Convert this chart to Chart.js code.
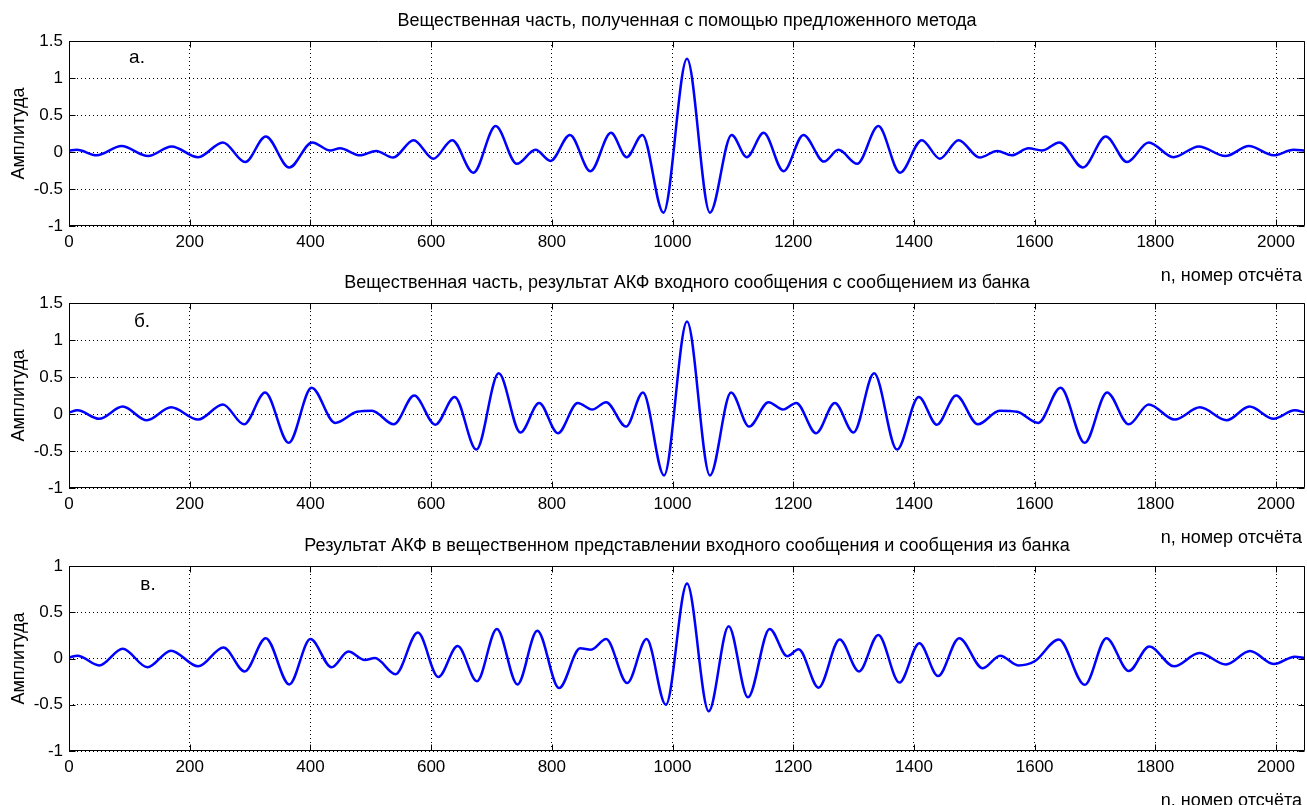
<!DOCTYPE html>
<html lang="ru">
<head>
  <meta charset="UTF-8">
  <title>АКФ</title>
  <script src="https://cdn.jsdelivr.net/npm/chart.js"></script>
  <style>
    body { margin: 0; background: #fff; width: 1307px; height: 805px; overflow: hidden; position: relative; }
    canvas { position: absolute; left: 0; }
  </style>
</head>
<body>
  <canvas id="chA" width="1307" height="290" style="top:0px"></canvas>
  <canvas id="chB" width="1307" height="290" style="top:262px"></canvas>
  <canvas id="chC" width="1307" height="290" style="top:525px"></canvas>

  <script>
    // отсчёты и амплитуды (экстремумы)
    const nA = [0, 13, 46, 87, 131, 170, 214, 255, 292, 326, 365, 403, 433, 449, 482, 509, 537, 571, 604, 635, 670, 707, 742, 773, 798, 830, 864, 898, 924, 950, 985, 1024, 1062, 1098, 1123, 1151, 1184, 1217, 1251, 1275, 1306, 1341, 1377, 1413, 1443, 1474, 1509, 1538, 1562, 1590, 1612, 1641, 1680, 1718, 1753, 1789, 1830, 1872, 1916, 1955, 1996, 2029, 2048];
    const ampA = [0.02, 0.03, -0.045, 0.08, -0.055, 0.075, -0.07, 0.13, -0.135, 0.21, -0.21, 0.13, 0.02, 0.05, -0.045, 0.015, -0.075, 0.16, -0.09, 0.16, -0.28, 0.35, -0.16, 0.03, -0.12, 0.23, -0.26, 0.26, -0.07, 0.23, -0.82, 1.26, -0.82, 0.23, -0.07, 0.26, -0.26, 0.23, -0.13, 0.03, -0.16, 0.35, -0.28, 0.16, -0.09, 0.16, -0.075, 0.015, -0.045, 0.05, 0.02, 0.13, -0.21, 0.21, -0.135, 0.13, -0.07, 0.075, -0.055, 0.08, -0.045, 0.03, 0.02];

    const nB = [0, 14, 50, 89, 129, 169, 214, 255, 290, 325, 364, 402, 441, 477, 502, 538, 572, 607, 639, 675, 712, 748, 779, 810, 843, 867, 890, 923, 951, 986, 1024, 1062, 1097, 1127, 1159, 1183, 1205, 1238, 1269, 1300, 1334, 1372, 1408, 1438, 1470, 1506, 1542, 1571, 1606, 1643, 1683, 1720, 1756, 1789, 1832, 1874, 1918, 1956, 1996, 2031, 2048];
    const ampB = [0.02, 0.05, -0.065, 0.1, -0.085, 0.09, -0.075, 0.13, -0.14, 0.29, -0.39, 0.355, -0.12, 0.03, 0.045, -0.14, 0.25, -0.145, 0.23, -0.48, 0.55, -0.25, 0.15, -0.26, 0.15, 0.06, 0.16, -0.17, 0.29, -0.83, 1.25, -0.83, 0.29, -0.17, 0.16, 0.06, 0.15, -0.26, 0.15, -0.25, 0.55, -0.48, 0.23, -0.145, 0.25, -0.14, 0.045, 0.03, -0.12, 0.355, -0.39, 0.29, -0.14, 0.13, -0.075, 0.09, -0.085, 0.1, -0.065, 0.05, 0.02];

    const nC = [0, 14, 50, 89, 130, 169, 214, 256, 291, 326, 365, 400, 435, 463, 490, 507, 541, 578, 612, 644, 676, 709, 743, 776, 812, 847, 865, 890, 925, 957, 989, 1024, 1060, 1093, 1125, 1161, 1190, 1209, 1242, 1277, 1309, 1341, 1376, 1409, 1440, 1475, 1514, 1543, 1573, 1600, 1640, 1683, 1719, 1756, 1790, 1831, 1873, 1917, 1957, 1996, 2031, 2048];
    const ampC = [0.01, 0.03, -0.075, 0.105, -0.095, 0.085, -0.085, 0.12, -0.14, 0.22, -0.28, 0.21, -0.095, 0.075, -0.015, 0.005, -0.17, 0.28, -0.2, 0.135, -0.245, 0.32, -0.28, 0.3, -0.32, 0.11, 0.095, 0.21, -0.265, 0.21, -0.5, 0.81, -0.57, 0.35, -0.42, 0.32, 0.025, 0.1, -0.315, 0.205, -0.14, 0.255, -0.26, 0.165, -0.19, 0.22, -0.105, 0.03, -0.075, -0.03, 0.205, -0.285, 0.22, -0.135, 0.13, -0.085, 0.06, -0.065, 0.08, -0.06, 0.02, 0.005];

    const xTicks = [0, 200, 400, 600, 800, 1000, 1200, 1400, 1600, 1800, 2000];
    const yTicksAB = [-1, -0.5, 0, 0.5, 1, 1.5];
    const yTicksC = [-1, -0.5, 0, 0.5, 1];

    const titles = [
      'Вещественная часть, полученная с помощью предложенного метода',
      'Вещественная часть, результат АКФ входного сообщения с сообщением из банка',
      'Результат АКФ в вещественном представлении входного сообщения и сообщения из банка'
    ];
    const letters = ['а.', 'б.', 'в.'];
    const yLabel = 'Амплитуда';
    const xLabel = 'n, номер отсчёта';

    const FONT = '"Liberation Sans", Arial, sans-serif';

    // рамка, внутренние засечки и подписи в стиле MATLAB
    const panelDecor = {
      id: 'panelDecor',
      afterDraw(chart, args, o) {
        const { ctx, chartArea: a, scales } = chart;
        const L = Math.round(a.left) + 0.5, R = Math.round(a.right) - 0.5;
        const T = Math.round(a.top) + 0.5, B = Math.round(a.bottom) - 0.5;
        ctx.save();
        ctx.strokeStyle = '#000';
        ctx.lineWidth = 1;
        ctx.beginPath();
        ctx.rect(L, T, R - L, B - T);
        scales.x.ticks.forEach(t => {
          const px = Math.round(scales.x.getPixelForValue(t.value)) + 0.5;
          ctx.moveTo(px, B); ctx.lineTo(px, B - 6);
          ctx.moveTo(px, T); ctx.lineTo(px, T + 6);
        });
        scales.y.ticks.forEach(t => {
          const py = Math.round(scales.y.getPixelForValue(t.value)) + 0.5;
          ctx.moveTo(L, py); ctx.lineTo(L + 6, py);
          ctx.moveTo(R, py); ctx.lineTo(R - 6, py);
        });
        ctx.stroke();

        ctx.fillStyle = '#000';
        ctx.textBaseline = 'middle';
        ctx.textAlign = 'center';
        ctx.font = '18px ' + FONT;
        ctx.fillText(o.title, (a.left + a.right) / 2, a.top - 20);

        ctx.font = '19px ' + FONT;
        ctx.fillText(o.letter, a.left + o.letterDx, a.top + o.letterDy);

        ctx.textAlign = 'right';
        ctx.font = '18px ' + FONT;
        ctx.fillText(xLabel, a.right - 3, a.bottom + 50);

        ctx.translate(19, (a.top + a.bottom) / 2);
        ctx.rotate(-Math.PI / 2);
        ctx.textAlign = 'center';
        ctx.font = '18px ' + FONT;
        ctx.fillText(yLabel, 0, 0);
        ctx.restore();
      }
    };

    const makeChart = (id, n, amp, yTicks, idx, letterDx, letterDy) => new Chart(document.getElementById(id), {
      type: 'line',
      data: {
        datasets: [{
          data: n.map((v, i) => ({ x: v, y: amp[i] })),
          borderColor: '#0000ff',
          borderWidth: 2.5,
          pointRadius: 0,
          cubicInterpolationMode: 'monotone',
          fill: false
        }]
      },
      options: {
        responsive: false,
        animation: false,
        devicePixelRatio: 1,
        layout: { padding: { top: 41, left: 0, right: 2, bottom: 0 } },
        plugins: {
          legend: { display: false },
          tooltip: { enabled: false },
          panelDecor: { title: titles[idx], letter: letters[idx], letterDx, letterDy }
        },
        scales: {
          x: {
            type: 'linear',
            min: 0, max: 2048,
            afterBuildTicks: s => { s.ticks = xTicks.map(v => ({ value: v })); },
            afterFit: s => { s.height = 64; },
            grid: { color: '#000', lineWidth: 1, drawTicks: false },
            border: { display: false, dash: [1, 3] },
            ticks: { color: '#000', padding: 6, maxRotation: 0, font: { family: FONT, size: 17 }, callback: v => String(v) }
          },
          y: {
            min: yTicks[0], max: yTicks[yTicks.length - 1],
            afterBuildTicks: s => { s.ticks = yTicks.map(v => ({ value: v })); },
            afterFit: s => { s.width = 69; },
            grid: { color: '#000', lineWidth: 1, drawTicks: false },
            border: { display: false, dash: [1, 3] },
            ticks: { color: '#000', padding: 6, font: { family: FONT, size: 17 }, callback: v => String(v) }
          }
        }
      },
      plugins: [panelDecor]
    });

    makeChart('chA', nA, ampA, yTicksAB, 0, 68, 17);
    makeChart('chB', nB, ampB, yTicksAB, 1, 73, 19);
    makeChart('chC', nC, ampC, yTicksC, 2, 79, 19);
  </script>
</body>
</html>
